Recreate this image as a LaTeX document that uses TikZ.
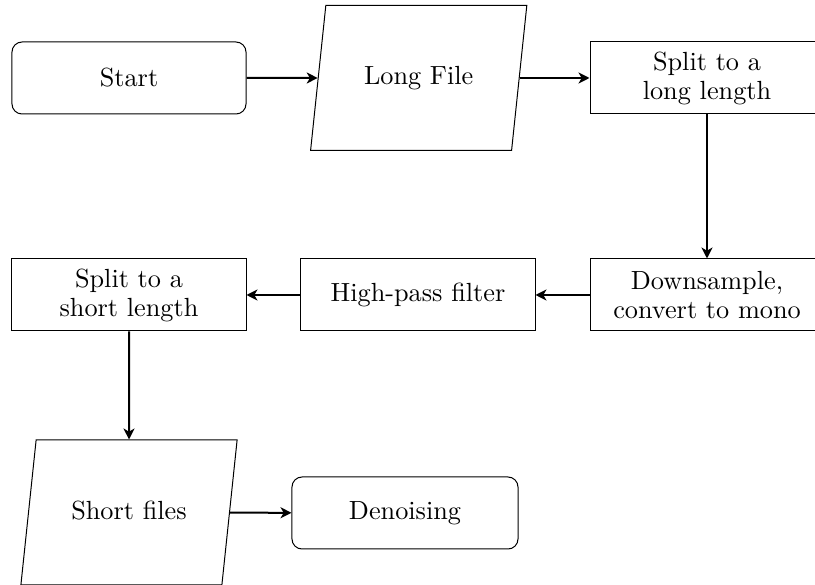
\documentclass[tikz,border=0pt]{standalone}
\usepackage{tikz}
\usetikzlibrary{shapes.geometric,arrows.meta}
\tikzset{process/.style={draw,rectangle,align=center,minimum width=93.6pt,minimum height=28.8pt,inner sep=2pt},
    terminal/.style={process,rounded corners=4pt},
    terminalnarrow/.style={terminal,minimum width=90.4pt},
    io/.style={draw,trapezium,trapezium left angle=84,trapezium right angle=96,
        text width=48pt,text height=7.3pt,text depth=2pt,align=center,inner xsep=13.15pt,inner ysep=24.35pt},
    flow/.style={-{Stealth[length=4.4pt,width=4.4pt,inset=1.3pt]},thick}}

\begin{document}
\begin{tikzpicture}[x=0.4pt,y=0.4pt,yscale=-1,xscale=1,font=\fontsize{10.5pt}{11.6pt}\selectfont]
%set diagram left start at 0, and has height of 585
\useasboundingbox (0,0) rectangle (815,585);
\clip (0,0) rectangle (815,585);

% Row 1
\node [terminal] (start) at (129,78) {Start};
\node [io] (longfile) at (418.7,78) {Long File};
\node [process] (splitlong) at (707,78) {Split to a\\long length};
% Row 2
\node [process] (downsample) at (707,295) {Downsample,\\convert to mono};
\node [process] (highpass) at (418,295) {High-pass filter};
\node [process] (splitshort) at (129,295) {Split to a\\short length};
% Row 3
\node [io] (shortfiles) at (129,512.5) {Short files};
\node [terminalnarrow] (denoising) at (405,513) {Denoising};

% Connectors
\draw [flow] (start) -- (longfile);
\draw [flow] (longfile) -- (splitlong);
\draw [flow] (splitlong) -- (downsample);
\draw [flow] (downsample) -- (highpass);
\draw [flow] (highpass) -- (splitshort);
\draw [flow] (splitshort) -- (shortfiles);
\draw [flow] (shortfiles) -- (denoising);

\end{tikzpicture}
\end{document}
